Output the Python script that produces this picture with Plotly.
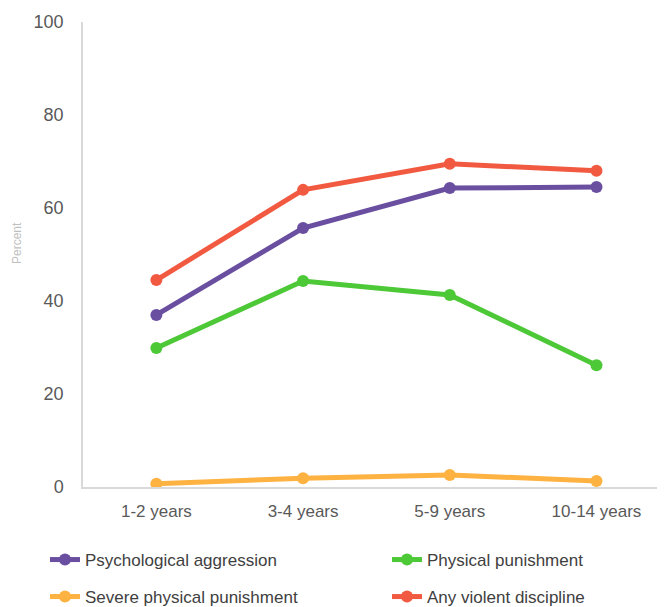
import plotly.graph_objects as go

categories = ["1-2 years", "3-4 years", "5-9 years", "10-14 years"]
psych = [37.0, 55.7, 64.3, 64.5]
physical = [29.9, 44.3, 41.3, 26.2]
severe = [0.7, 1.9, 2.6, 1.3]
any_violent = [44.5, 63.9, 69.5, 68.0]

series = [
    ("Psychological aggression", psych, "#6a4fa1", "legend"),
    ("Physical punishment", physical, "#4dc837", "legend2"),
    ("Severe physical punishment", severe, "#fdb242", "legend3"),
    ("Any violent discipline", any_violent, "#f15a40", "legend4"),
]

FONT = "Liberation Sans, Arial, sans-serif"
W, H = 657, 599  # page body has an 8px margin
L, T, B = 75, 14, 120
PW, PH = W - L, H - T - B

fig = go.Figure()
for name, vals, color, lg in series:
    fig.add_trace(go.Scatter(
        x=categories, y=vals, name=name, mode="lines+markers",
        line=dict(color=color, width=5),
        marker=dict(color=color, size=12),
        legend=lg, showlegend=True,
    ))

legend_common = dict(
    orientation="h", xref="container", yref="container",
    xanchor="left", yanchor="middle",
    font=dict(family=FONT, size=17, color="#404040"),
    bgcolor="rgba(0,0,0,0)",
)

col1, col2 = 37, 379
row1, row2 = 552, 589

fig.update_layout(
    width=W, height=H, showlegend=True,
    margin=dict(l=L, r=0, t=T, b=B, autoexpand=False),
    paper_bgcolor="white", plot_bgcolor="white",
    font=dict(family=FONT, size=17, color="#595959"),
    legend=dict(x=col1 / W, y=1 - row1 / H, **legend_common),
    legend2=dict(x=col2 / W, y=1 - row1 / H, **legend_common),
    legend3=dict(x=col1 / W, y=1 - row2 / H, **legend_common),
    legend4=dict(x=col2 / W, y=1 - row2 / H, **legend_common),
    xaxis=dict(
        type="category", range=[-0.5, 3.467], automargin=False,
        showline=True, linecolor="#d9d9d9", linewidth=1.5,
        showgrid=False, zeroline=False, ticks="",
        tickfont=dict(family=FONT, size=17, color="#595959"),
        ticklabelstandoff=8,
    ),
    yaxis=dict(
        range=[0, 100], tickvals=[0, 20, 40, 60, 80, 100], automargin=False,
        showline=True, linecolor="#d9d9d9", linewidth=1.5,
        showgrid=False, zeroline=False, ticks="",
        tickfont=dict(family=FONT, size=18, color="#595959"),
        ticklabelstandoff=14,
    ),
    annotations=[dict(
        text="Percent", textangle=-90, showarrow=False,
        xref="paper", yref="paper",
        x=(9 - L) / PW, y=1 - (235 - T) / PH,
        xanchor="center", yanchor="middle",
        font=dict(family=FONT, size=12, color="#bfbfbf"),
    )],
)

fig.write_html("out.html")
